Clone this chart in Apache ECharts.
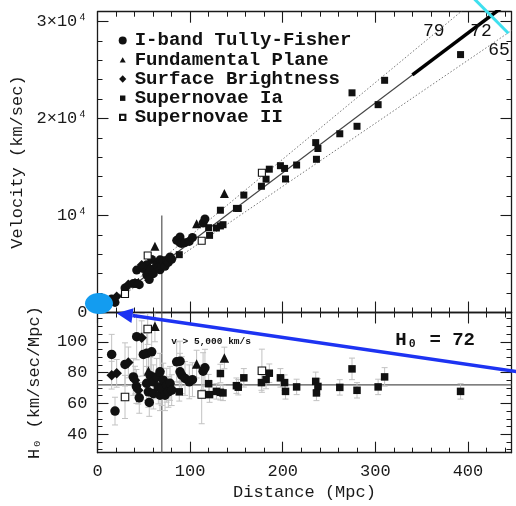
<!DOCTYPE html>
<html>
<head>
<meta charset="utf-8">
<script src="https://cdn.jsdelivr.net/npm/echarts@6/dist/echarts.min.js"></script>
<style>
  html, body { margin: 0; padding: 0; background: #fff; }
  #hubble { width: 516px; height: 506px; }
</style>
</head>
<body>
<div id="hubble"></div>
<script>
// 每个点: [距离 Mpc, 速度 km/s, H0, H0 误差半宽]
const tullyFisher = [
  [15.3, 1400, 91.8, 13], [18.9, 1040, 55.0, 9], [29.7, 2530, 85.3, 14],
  [38.7, 2990, 77.2, 12], [42.0, 2980, 71.0, 11], [42.3, 4370, 103.3, 15],
  [45.1, 2870, 63.6, 10], [49.5, 4540, 91.8, 14], [53.1, 4910, 92.5, 13],
  [53.1, 3880, 73.0, 11], [54.9, 3710, 67.5, 10], [55.9, 3390, 60.6, 9],
  [57.0, 4450, 78.0, 12], [58.5, 5470, 93.5, 14], [60.3, 4460, 74.0, 11],
  [60.3, 4000, 66.4, 10], [63.9, 4930, 77.2, 12], [65.7, 4650, 70.7, 11],
  [67.5, 5430, 80.5, 12], [67.5, 4410, 65.3, 10], [69.3, 4830, 69.7, 11],
  [71.0, 5330, 75.1, 11], [72.9, 4760, 65.3, 10], [74.7, 5360, 71.8, 11],
  [76.5, 5160, 67.5, 10], [78.3, 5720, 73.0, 11], [80.1, 5490, 68.6, 10],
  [85.5, 7440, 87.0, 13], [89.1, 7790, 87.4, 13], [89.1, 7170, 80.5, 12],
  [90.9, 7120, 78.3, 12], [94.5, 7200, 76.2, 11], [99.1, 7330, 74.0, 11],
  [102.5, 7730, 75.4, 11], [114.0, 9220, 80.9, 12], [116.0, 9640, 83.1, 12]
];
const fundamentalPlane = [
  [55.0, 4460, 81.0, 9], [62.0, 6820, 110.0, 10], [107.0, 9150, 85.5, 9], [137.0, 12260, 89.5, 7]
];
const surfaceBrightness = [
  [15.3, 1200, 78.3, 9], [20.7, 1650, 79.5, 9], [33.3, 2880, 86.6, 10],
  [40.5, 3040, 75.1, 9], [44.0, 3020, 68.6, 9], [47.7, 4890, 102.6, 11]
];
const supernovaeIa = [
  [88.3, 5960, 67.5, 6], [120.0, 8740, 72.8, 6], [121.0, 7950, 65.7, 5],
  [128.4, 8710, 67.8, 5], [132.7, 8920, 67.2, 5], [135.5, 9050, 66.8, 5],
  [132.7, 10540, 79.4, 6], [150.0, 10730, 71.5, 5], [152.0, 10720, 70.5, 5],
  [158.0, 12100, 76.6, 6], [177.0, 13010, 73.5, 5], [182.0, 13740, 75.5, 6],
  [185.5, 14770, 79.6, 6], [197.5, 15130, 76.6, 6], [202.0, 14850, 73.5, 5],
  [203.0, 13760, 67.8, 5], [215.0, 15200, 70.7, 5], [235.6, 17510, 74.3, 6],
  [238.0, 16900, 71.0, 5], [236.4, 15790, 66.8, 5], [261.6, 18420, 70.4, 5],
  [274.8, 22640, 82.4, 7], [280.2, 19190, 68.5, 5], [303.0, 21420, 70.7, 5],
  [310.0, 23930, 77.2, 6], [392.0, 26580, 67.8, 5]
];
const supernovaeII = [
  [29.7, 1910, 64.2, 14], [54.2, 5870, 108.3, 10], [112.5, 7400, 65.8, 19], [177.5, 14410, 81.2, 14]
];

const methodNames = ['I-band Tully-Fisher', 'Fundamental Plane', 'Surface Brightness', 'Supernovae Ia', 'Supernovae II'];
const hubbleFits = [65, 72, 79];
const hubbleBest = 72;
const thickFrom = 340;      // 粗线起点 (Mpc)
const velocityCut = 5000;   // v > 5,000 km/s
const distTicks = [0, 100, 200, 300, 400];
const velTicks = [0, 10000, 20000, 30000];
const h0Ticks = [40, 60, 80, 100];

const xMax = 447, vMax = 31000, hMin = 28, hMax = 119;
const mono = "'Liberation Mono', 'DejaVu Sans Mono', monospace";
const ink = '#1a1a1a';

const chart = echarts.init(document.getElementById('hubble'));

function range(a, b, step, skip) {
  const out = [];
  for (let v = a; v <= b + 1e-9; v += step) {
    if (!skip || v % skip !== 0) out.push(v);
  }
  return out;
}

// 每条边: 长刻度轴 + 短刻度轴
function sideAxes(grid, position, min, max, major, minor, extra) {
  const base = {
    gridIndex: grid, position: position, type: 'value', min: min, max: max,
    splitLine: { show: false }
  };
  const majorAxis = Object.assign({}, base, {
    axisLine: { show: true, onZero: false, lineStyle: { color: ink, width: 1.3 } },
    axisTick: { show: true, inside: true, length: 11, customValues: major, lineStyle: { color: ink, width: 1.1 } },
    axisLabel: { show: false }
  }, extra || {});
  const minorAxis = Object.assign({}, base, {
    axisLine: { show: false, onZero: false },
    axisTick: { show: true, inside: true, length: 5, customValues: minor, lineStyle: { color: ink, width: 1 } },
    axisLabel: { show: false }
  });
  return [majorAxis, minorAxis];
}

const distMinor = range(20, 440, 20, 100);
const velMinor = range(2000, 30000, 2000, 10000);
const h0Minor = range(30, 115, 5, 20);

const labelStyle = { show: true, fontFamily: mono, fontSize: 17, color: ink };
const nameStyle = { fontFamily: mono, fontSize: 17, color: ink };

const xAxes = [].concat(
  sideAxes(0, 'bottom', 0, xMax, distTicks, distMinor),
  sideAxes(0, 'top', 0, xMax, distTicks, distMinor),
  sideAxes(1, 'bottom', 0, xMax, distTicks, distMinor, {
    axisLabel: Object.assign({}, labelStyle, { customValues: distTicks, margin: 10 }),
    name: 'Distance (Mpc)', nameLocation: 'middle', nameGap: 31, nameTextStyle: nameStyle
  }),
  sideAxes(1, 'top', 0, xMax, distTicks, distMinor)
);

const yAxes = [].concat(
  sideAxes(0, 'left', 0, vMax, velTicks, velMinor, {
    axisLabel: Object.assign({}, labelStyle, {
      customValues: velTicks, margin: 10,
      formatter: v => v === 0 ? '0' : (v === 10000 ? '10⁴' : (v / 10000) + '×10⁴')
    }),
    name: 'Velocity (km/sec)', nameLocation: 'middle', nameGap: 70, nameTextStyle: nameStyle
  }),
  sideAxes(0, 'right', 0, vMax, velTicks, velMinor),
  sideAxes(1, 'left', hMin, hMax, h0Ticks, h0Minor, {
    axisLabel: Object.assign({}, labelStyle, { customValues: h0Ticks, margin: 10 }),
    name: 'H₀ (km/sec/Mpc)', nameLocation: 'middle', nameGap: 55, nameTextStyle: nameStyle
  }),
  sideAxes(1, 'right', hMin, hMax, h0Ticks, h0Minor)
);

const TOP = { xAxisIndex: 0, yAxisIndex: 0 };
const BOTTOM = { xAxisIndex: 4, yAxisIndex: 4 };

// 图例小图标 (10x10 方框内)
const frame = 'path://M0,0 M10,10 ';
const methods = [
  { data: tullyFisher, symbol: 'circle', size: 9, icon: frame + 'M1,5 A4,4 0 1 1 9,5 A4,4 0 1 1 1,5 Z' },
  { data: fundamentalPlane, symbol: 'triangle', size: 9, icon: frame + 'M2,7.8 L5,2.4 L8,7.8 Z' },
  { data: surfaceBrightness, symbol: 'diamond', size: 10, icon: frame + 'M5,1.3 L8.6,5 L5,8.7 L1.4,5 Z' },
  { data: supernovaeIa, symbol: 'rect', size: 7, icon: frame + 'M2.3,2.3 L7.7,2.3 L7.7,7.7 L2.3,7.7 Z' },
  { data: supernovaeII, symbol: 'rect', size: 7, open: true, icon: frame + 'M2.3,2.3 L7.7,2.3 L7.7,7.7 L2.3,7.7 Z' }
];

function lineSeries(axes, data, style) {
  return Object.assign({
    type: 'line', data: data, symbol: 'none', silent: true, z: 1,
    lineStyle: style, animation: false
  }, axes);
}

const series = [];

methods.forEach((m, i) => {
  const itemStyle = m.open
    ? { color: '#fff', borderColor: '#111', borderWidth: 1.1, opacity: 1 }
    : { color: '#111', opacity: 1 };
  series.push(Object.assign({
    name: methodNames[i], type: 'scatter', symbol: m.symbol, symbolSize: m.size,
    itemStyle: itemStyle, z: 4,
    data: m.data.map(p => [p[0], p[1]])
  }, TOP));
  series.push(Object.assign({
    name: methodNames[i], type: 'scatter', symbol: m.symbol, symbolSize: m.size + 0.5,
    itemStyle: itemStyle, z: 4,
    data: m.data.map(p => [p[0], p[2]])
  }, BOTTOM));
});

// 误差棒
const allPoints = [].concat(tullyFisher, fundamentalPlane, surfaceBrightness, supernovaeIa, supernovaeII);
series.push(Object.assign({
  type: 'custom', silent: true, z: 2, clip: true,
  data: allPoints.map(p => [p[0], p[2], p[3]]),
  renderItem: (params, api) => {
    const x = api.value(0), h = api.value(1), e = api.value(2);
    const hi = api.coord([x, h + e]);
    const lo = api.coord([x, h - e]);
    const w = 3;
    const st = { stroke: '#c2c2c2', lineWidth: 1 };
    return {
      type: 'group',
      children: [
        { type: 'line', shape: { x1: hi[0], y1: hi[1], x2: lo[0], y2: lo[1] }, style: st },
        { type: 'line', shape: { x1: hi[0] - w, y1: hi[1], x2: hi[0] + w, y2: hi[1] }, style: st },
        { type: 'line', shape: { x1: lo[0] - w, y1: lo[1], x2: lo[0] + w, y2: lo[1] }, style: st }
      ]
    };
  }
}, BOTTOM));

// 哈勃定律直线
hubbleFits.forEach(h => {
  const best = h === hubbleBest;
  series.push(lineSeries(TOP, [[0, 0], [xMax, h * xMax]],
    best ? { color: '#444', width: 1.2 } : { color: '#777', width: 1, type: [1.5, 2] }));
});
series.push(lineSeries(TOP, [[thickFrom, hubbleBest * thickFrom], [xMax, hubbleBest * xMax]],
  { color: '#000', width: 3.5 }));
const dCut = velocityCut / hubbleBest;
series.push(lineSeries(TOP, [[dCut, 0], [dCut, 10000]], { color: '#555', width: 1.2 }));
series.push(lineSeries(BOTTOM, [[0, hubbleBest], [xMax, hubbleBest]], { color: '#555', width: 1.2 }));
series.push(lineSeries(BOTTOM, [[dCut, hMin], [dCut, hMax]], { color: '#555', width: 1.2 }));

// 文字注记
function textSeries(axes, items, font) {
  return Object.assign({
    type: 'scatter', silent: true, symbolSize: 1, z: 6,
    itemStyle: { color: 'transparent', opacity: 1 },
    label: Object.assign({ show: true, position: 'inside', formatter: '{b}', color: '#111', fontFamily: mono }, font),
    data: items
  }, axes);
}
series.push(textSeries(TOP, [
  { name: '79', value: [363, 28950] },
  { name: '72', value: [414, 28950] },
  { name: '65', value: [433.5, 27060] }
], { fontSize: 18 }));
series.push(textSeries(BOTTOM, [
  { name: 'H₀ = 72', value: [364.5, 101.2] }
], { fontSize: 19, fontWeight: 'bold' }));
series.push(textSeries(BOTTOM, [
  { name: 'v > 5,000 km/s', value: [122.6, 99.9] }
], { fontSize: 9.5, fontWeight: 'bold' }));

chart.setOption({
  animation: false,
  backgroundColor: '#fff',
  grid: [
    { left: 97.5, right: 4.5, top: 11.7, height: 300.8 },
    { left: 97.5, right: 4.5, top: 312.5, height: 140.2 }
  ],
  legend: {
    data: methodNames.map((n, i) => ({ name: n, icon: methods[i].icon })),
    orient: 'vertical', left: 116.7, top: 31, padding: 0, itemGap: 0,
    itemWidth: 10, itemHeight: 10, selectedMode: false,
    textStyle: {
      fontFamily: mono, fontWeight: 'bold', fontSize: 19, lineHeight: 19.2,
      color: '#111', padding: [0, 0, 0, 2]
    }
  },
  xAxis: xAxes,
  yAxis: yAxes,
  series: series
});

// 图上的彩色标注 (椭圆, 箭头, 青色线)
const ellipseC = chart.convertToPixel({ gridIndex: 0 }, [1.6, 930]);
const arrowTip = chart.convertToPixel({ gridIndex: 1 }, [20.7, 118.5]);
const arrowTail = chart.convertToPixel({ gridIndex: 1 }, [456, 80.3]);
const cyanA = chart.convertToPixel({ gridIndex: 0 }, [406, 32400]);
const cyanB = chart.convertToPixel({ gridIndex: 0 }, [443.6, 28780]);

const dx = arrowTip[0] - arrowTail[0], dy = arrowTip[1] - arrowTail[1];
const len = Math.sqrt(dx * dx + dy * dy);
const ux = dx / len, uy = dy / len;
const head = 16, half = 7.5;
const base = [arrowTip[0] - ux * head, arrowTip[1] - uy * head];

chart.setOption({
  graphic: [
    { type: 'line', z: 100, shape: { x1: cyanA[0], y1: cyanA[1], x2: cyanB[0], y2: cyanB[1] },
      style: { stroke: '#3ee0ef', lineWidth: 3 } },
    { type: 'ellipse', z: 100, shape: { cx: ellipseC[0], cy: ellipseC[1], rx: 14, ry: 10.5 },
      style: { fill: '#139cf0' } },
    { type: 'line', z: 100, shape: { x1: arrowTail[0], y1: arrowTail[1], x2: base[0], y2: base[1] },
      style: { stroke: '#1d33f2', lineWidth: 3.5 } },
    { type: 'polygon', z: 100, shape: { points: [
        arrowTip,
        [base[0] - uy * half, base[1] + ux * half],
        [base[0] + uy * half, base[1] - ux * half]
      ] }, style: { fill: '#1d33f2' } }
  ]
});

window.addEventListener('resize', () => chart.resize());
</script>
</body>
</html>
